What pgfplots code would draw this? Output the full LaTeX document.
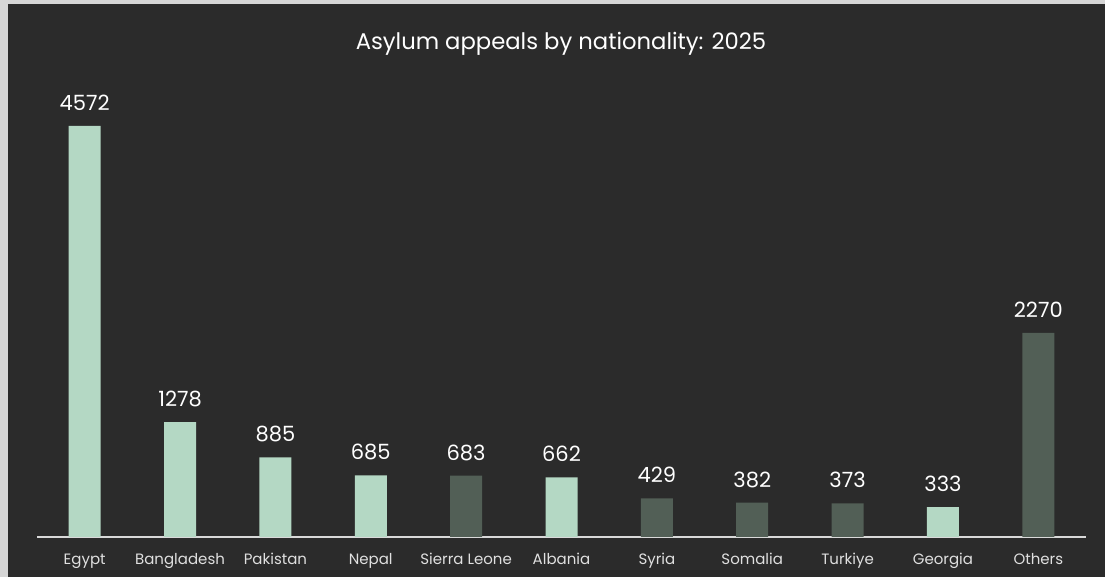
\documentclass[border=0pt]{standalone}
\usepackage{pgfplots}
\pgfplotsset{compat=1.18}
\usepackage{fontspec}
\setmainfont{Poppins}
\definecolor{bgc}{HTML}{2B2B2B}
\definecolor{frame}{HTML}{D6D6D6}
\definecolor{lightbar}{HTML}{B4D8C4}
\definecolor{darkbar}{HTML}{525F56}
\definecolor{axl}{HTML}{D9D9D9}
\definecolor{lbl}{HTML}{E0E0E0}
\begin{document}
\begin{tikzpicture}[x=1pt,y=1pt]
\fill[frame] (0,0) rectangle (1105,577);
\fill[bgc] (8,0) rectangle (1105,573);
\node[text=white, font=\fontsize{22.7}{24}\selectfont, anchor=base] at (561,527) {Asylum appeals by nationality: 2025};
\begin{axis}[
  at={(37pt,40pt)}, anchor=south west,
  scale only axis, width=1049pt, height=449.5pt,
  xmin=-0.5, xmax=10.5, ymin=0, ymax=5000,
  axis y line=none, axis x line=bottom,
  x axis line style={draw=axl, line width=1.5pt, -},
  xtick={0,...,10},
  xticklabels={Egypt,Bangladesh,Pakistan,Nepal,Sierra Leone,Albania,Syria,Somalia,Turkiye,Georgia,Others},
  major tick length=0pt,
  xticklabel style={text=lbl, font=\fontsize{15}{17}\selectfont, anchor=base, yshift=-27.5pt, inner sep=0pt},
  ybar, bar width=32pt,
  clip=false,
  /pgf/number format/.cd, 1000 sep={}, assume math mode=true, /pgfplots/.cd,
  nodes near coords,
  every node near coord/.append style={text=white, font=\fontsize{21}{23}\selectfont, anchor=base, yshift=15.5pt, inner sep=0pt},
]
\addplot[fill=lightbar, draw=none, bar shift=0pt] coordinates {(0,4572) (1,1278) (2,885) (3,685) (5,662) (9,333)};
\addplot[fill=darkbar, draw=none, bar shift=0pt] coordinates {(4,683) (6,429) (7,382) (8,373) (10,2270)};
\end{axis}
\end{tikzpicture}
\end{document}
